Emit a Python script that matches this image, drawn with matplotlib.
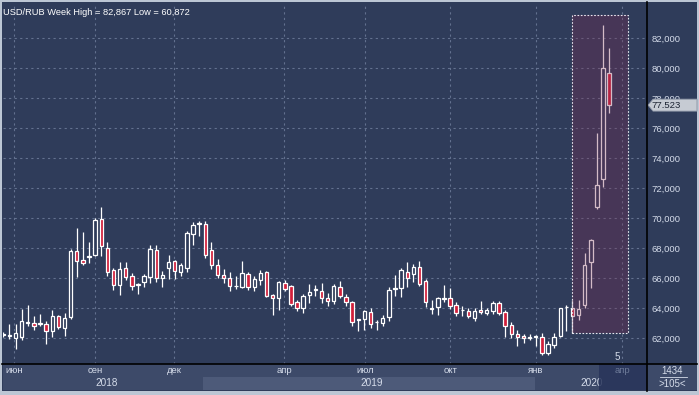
import matplotlib
matplotlib.use('Agg')
import matplotlib.pyplot as plt
from matplotlib.patches import Rectangle, Polygon

# ---------------- data (weekly USD/RUB candles) ----------------
opens = [62.2, 62.15, 62.0, 62.07, 62.98, 63.0, 62.93, 62.96, 62.44, 63.49,
         62.67, 63.4, 67.78, 67.2, 67.38, 67.56, 69.93, 68.0, 66.56, 65.56,
         66.67, 66.11, 65.51, 65.73, 66.07, 67.89, 66.0, 66.67, 67.11, 66.38,
         66.67, 68.96, 69.62, 69.62, 67.84, 66.84, 66.18, 65.98, 65.44, 65.38,
         66.27, 65.4, 65.89, 66.4, 64.84, 64.64, 65.67, 65.49, 64.4, 64.0,
         64.84, 65.2, 65.16, 64.67, 64.49, 65.4, 64.73, 64.4, 63.18, 63.27,
         63.73, 63.04, 63.0, 63.4, 65.3, 65.36, 66.38, 66.24, 66.71, 65.78,
         63.93, 64.04, 64.6, 64.64, 64.2, 63.84, 63.82, 63.36, 63.87, 63.69,
         63.82, 64.36, 63.76, 62.87, 62.24, 62.13, 62.0, 62.07, 62.04, 60.98,
         61.53, 62.13, 64.04, 64.02, 63.53, 64.2, 67.09, 70.71, 72.58, 79.64]
highs = [62.4, 62.96, 62.96, 63.96, 64.22, 63.49, 63.62, 63.11, 63.89, 63.56,
         63.67, 67.93, 69.33, 69.07, 68.4, 70.0, 70.73, 68.4, 66.67, 67.07,
         67.07, 66.33, 65.67, 66.27, 68.22, 68.22, 66.44, 67.56, 67.22, 67.0,
         69.16, 69.71, 69.82, 69.78, 68.4, 67.27, 66.6, 66.38, 66.11, 67.16,
         66.4, 66.11, 66.51, 66.44, 64.96, 65.82, 65.89, 65.56, 64.51, 64.93,
         65.6, 65.56, 65.67, 65.0, 65.62, 65.78, 64.96, 64.44, 63.29, 63.89,
         64.0, 63.22, 63.51, 65.38, 66.22, 66.64, 67.09, 66.93, 67.13, 65.93,
         64.53, 64.76, 65.53, 65.31, 64.42, 64.16, 63.98, 63.98, 64.47, 63.98,
         64.47, 64.47, 63.87, 63.04, 62.53, 62.24, 62.24, 62.2, 62.31, 61.8,
         62.31, 64.02, 64.2, 64.53, 64.53, 67.7, 68.62, 75.64, 82.867, 81.31]
lows = [62.1, 61.93, 61.27, 61.89, 62.78, 62.51, 62.82, 61.6, 62.07, 62.6,
        62.11, 63.27, 66.04, 66.84, 67.0, 67.44, 67.44, 66.11, 65.18, 64.84,
        65.84, 65.22, 64.93, 65.38, 65.67, 65.71, 65.4, 65.93, 65.96, 66.11,
        66.38, 68.18, 68.82, 67.33, 66.6, 66.0, 65.67, 65.11, 65.27, 65.33,
        65.22, 65.11, 65.56, 64.75, 63.51, 63.89, 65.11, 64.16, 63.82, 63.67,
        64.33, 64.82, 64.33, 64.16, 64.29, 64.67, 64.16, 62.78, 62.44, 62.51,
        62.67, 62.56, 62.78, 63.11, 64.82, 64.76, 65.42, 65.76, 65.47, 64.09,
        63.6, 63.53, 64.38, 63.93, 63.47, 63.47, 63.31, 63.13, 63.6, 63.53,
        63.6, 63.53, 62.09, 61.98, 61.47, 61.64, 61.87, 61.47, 60.872, 60.9,
        61.31, 62.09, 62.49, 62.31, 63.2, 64.0, 65.31, 70.58, 72.04, 76.98]
closes = [62.3, 62.2, 62.33, 63.11, 63.07, 62.78, 62.98, 62.49, 63.49, 62.73,
          63.33, 67.78, 67.16, 67.0, 67.49, 69.89, 68.16, 66.4, 65.56, 66.6,
          66.07, 65.49, 65.58, 66.11, 67.93, 66.0, 66.2, 67.07, 66.49, 66.89,
          69.0, 69.56, 69.69, 67.56, 66.89, 66.18, 66.0, 65.49, 65.49, 66.33,
          65.38, 65.93, 66.33, 64.78, 64.67, 65.73, 65.27, 64.27, 64.0, 64.78,
          65.04, 65.22, 64.67, 64.49, 65.49, 64.82, 64.4, 63.07, 63.22, 63.82,
          62.93, 63.09, 63.33, 65.22, 65.33, 66.53, 66.02, 66.71, 65.6, 64.38,
          64.0, 64.64, 64.67, 64.16, 63.64, 63.87, 63.47, 63.8, 63.71, 63.87,
          64.36, 63.64, 62.82, 62.24, 62.09, 61.98, 62.04, 62.09, 60.98, 61.6,
          62.09, 63.98, 64.09, 63.49, 63.91, 66.87, 68.53, 72.2, 79.98, 77.523]

month_labels = ['июн', 'сен', 'дек', 'апр', 'июл', 'окт', 'янв', 'апр']
month_pos = [1.75, 15.0, 27.9, 45.9, 59.1, 73.0, 87.0, 101.1]
year_labels = ['2018', '2019', '2020']
year_pos = [16.9, 60.2, 96.2]
year_start = [-0.05, 32.6, 86.9]
y_ticks = [62000, 64000, 66000, 68000, 70000, 72000, 74000, 76000, 78000, 80000, 82000]
title = 'USD/RUB Week High = 82,867 Low = 60,872'
highlight_range = (93.0, 102.1, 62.33, 83.53)
marker_label = '5'
marker_pos = 100.3
bar_count = '1434'
zoom_label = '>105<'

# ---------------- layout ----------------
W, H = 699, 395
fig = plt.figure(figsize=(W / 100, H / 100), dpi=100)
fig.patch.set_facecolor('#bcc6d4')

BG = '#2f3c5a'
STRIP = '#3d4a69'
LIGHT = '#4d5a79'
DARKBOX = '#28345a'
TXT = '#d5dcea'
DIM = '#6d7a98'
GRID = '#63718f'
RED = '#d21f3b'

def rect_ax(px0, py0, px1, py1):
    return [px0 / W, 1 - py1 / H, (px1 - px0) / W, (py1 - py0) / H]

# background panel
bgax = fig.add_axes(rect_ax(2, 2, 697, 391))
bgax.set_facecolor(BG)
bgax.set_xticks([]); bgax.set_yticks([])
for s in bgax.spines.values():
    s.set_visible(False)

ax = fig.add_axes(rect_ax(3, 3, 647, 364))
ax.set_facecolor(BG)
xmin, xmax = -0.05, -0.05 + 644 / 6.12
ax.set_xlim(xmin, xmax)
ax.set_ylim(60.27, 84.33)
for s in ax.spines.values():
    s.set_visible(False)

# grid
for yv in y_ticks:
    ax.axhline(yv / 1000, color=GRID, lw=0.8, ls=(0, (2, 3)), zorder=1)
for xv in month_pos:
    ax.axvline(xv, color=GRID, lw=0.8, ls=(0, (2, 3)), zorder=1)

# candles
bw = 0.56
for i, (o, h, l, c) in enumerate(zip(opens, highs, lows, closes)):
    up = c >= o
    ax.plot([i, i], [l, h], color='white', lw=0.9, zorder=2, solid_capstyle='butt')
    bottom = min(o, c)
    height = max(abs(c - o), 0.06)
    ax.add_patch(Rectangle((i - bw / 2, bottom), bw, height,
                           facecolor=BG if up else RED, edgecolor='white',
                           lw=0.9, zorder=3))

# highlight region
x0, x1, y0, y1 = highlight_range
ax.add_patch(Rectangle((x0, y0), x1 - x0, y1 - y0, facecolor='#7a2c52',
                       alpha=0.32, edgecolor='none', zorder=4))
ax.add_patch(Rectangle((x0, y0), x1 - x0, y1 - y0, facecolor='none',
                       edgecolor='#e8e8f0', lw=0.8, ls=(0, (1.5, 1.5)), zorder=5))

# y tick labels on right
ax.yaxis.tick_right()
ax.set_yticks([v / 1000 for v in y_ticks])
ax.set_yticklabels([f'{v:,}' for v in y_ticks], fontsize=6.8, color=TXT,
                   family='Liberation Sans')
ax.tick_params(axis='y', length=0, pad=3)
ax.set_xticks([])

ax.text(0.0, 0.985, title, transform=ax.transAxes, ha='left', va='top',
        fontsize=6.7, color='white', family='Liberation Sans')
ax.text(marker_pos, 60.4, marker_label, fontsize=7, color=TXT,
        family='Liberation Sans', ha='center', va='bottom', zorder=6)

# bottom strip
sx = fig.add_axes(rect_ax(3, 364, 647, 390))
sx.set_xlim(xmin, xmax)
sx.set_ylim(0, 2)
sx.set_facecolor(STRIP)
sx.set_xticks([]); sx.set_yticks([])
for s in sx.spines.values():
    s.set_visible(False)
ends = year_start[1:] + [xmax]
for k, (a, b) in enumerate(zip(year_start, ends)):
    sx.add_patch(Rectangle((a, 0), b - a, 1, facecolor=LIGHT if k == 1 else STRIP,
                           edgecolor='none', zorder=1))
for k, (lab, p) in enumerate(zip(month_labels, month_pos)):
    sx.text(p, 1.48, lab, ha='center', va='center', fontsize=6.8,
            color=DIM if k == len(month_labels) - 1 else TXT,
            family='Liberation Sans', zorder=4 if k == len(month_labels) - 1 else 2)
for lab, p in zip(year_labels, year_pos):
    sx.text(p, 0.52, lab, ha='center', va='center', fontsize=7.2, color=TXT,
            family='Liberation Sans', zorder=2)
sx.add_patch(Rectangle((97.3, 0), xmax - 97.3, 2, facecolor=DARKBOX, alpha=0.85,
                       edgecolor='none', zorder=3))

# right-bottom box
rb = fig.add_axes(rect_ax(647, 364, 697, 390))
rb.set_facecolor(STRIP)
rb.set_xlim(0, 1); rb.set_ylim(0, 1)
rb.set_xticks([]); rb.set_yticks([])
for s in rb.spines.values():
    s.set_visible(False)
rb.text(0.5, 0.74, bar_count, ha='center', va='center', fontsize=7, color=TXT,
        family='Liberation Sans')
rb.plot([0.25, 0.8], [0.5, 0.5], color=TXT, lw=0.6)
rb.text(0.5, 0.24, zoom_label, ha='center', va='center', fontsize=7, color=TXT,
        family='Liberation Sans')

# overlay for separators and the price tag (pixel coords)
ov = fig.add_axes([0, 0, 1, 1], facecolor='none')
ov.set_xlim(0, W); ov.set_ylim(H, 0)
ov.axis('off')
ov.plot([647, 647], [2, 391], color='black', lw=1.2)
ov.plot([2, 697], [364, 364], color='black', lw=1.2)

fig.canvas.draw()
ypix = H - ax.transData.transform((0, closes[-1]))[1]
tag = Polygon([[648, ypix], [653, ypix - 6], [697, ypix - 6], [697, ypix + 6],
               [653, ypix + 6]], closed=True, facecolor='#c6cbd3',
              edgecolor='#8a93a3', lw=0.6)
ov.add_patch(tag)
ov.text(651, ypix, f'{closes[-1]:,.3f}', ha='left', va='center', fontsize=6.8,
        color='#1d2433', family='Liberation Sans')

fig.savefig('out.png', dpi=100, facecolor=fig.get_facecolor())
